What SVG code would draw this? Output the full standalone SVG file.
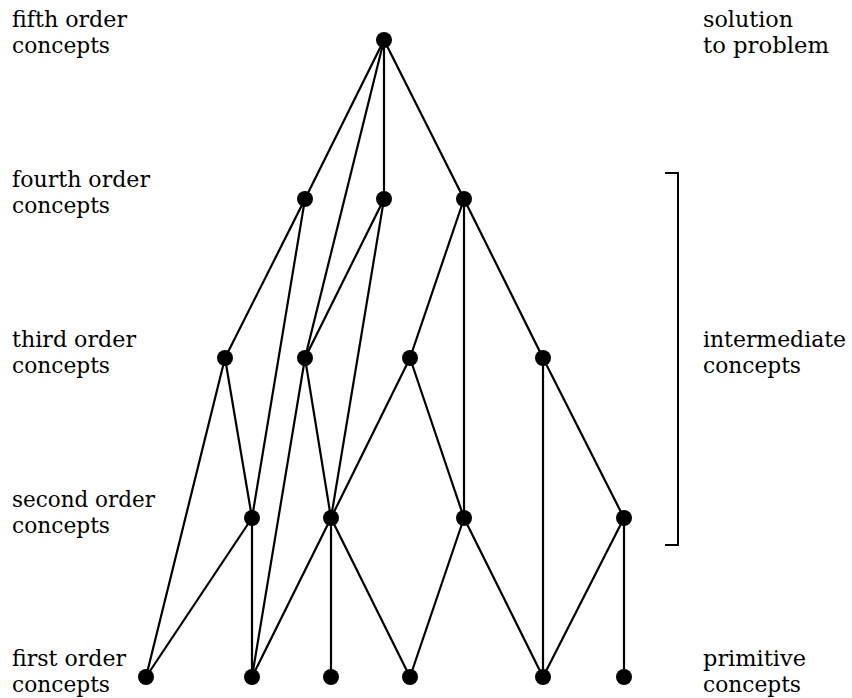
<svg xmlns="http://www.w3.org/2000/svg" width="852" height="698" viewBox="0 0 852 698">
  <style>
    text { font-family: 'DejaVu Serif', 'Liberation Serif', 'Noto Serif', 'FreeSerif', serif; font-size: 22px; fill: #000; }
    .edge { stroke: #000; stroke-width: 2.2; fill: none; stroke-linecap: round; }
    .node { fill: #000; }
    .bracket { stroke: #000; stroke-width: 2; fill: none; }
  </style>
  <defs>
    <circle id="dot" r="8" class="node"/>
  </defs>

  <rect width="852" height="698" fill="#fff"/>

  <!-- level labels, left side -->
  <g id="labels-left">
    <text x="12" y="27" textLength="115" lengthAdjust="spacingAndGlyphs">fifth order</text>
    <text x="12" y="53" textLength="98" lengthAdjust="spacingAndGlyphs">concepts</text>
    <text x="12" y="187" textLength="138" lengthAdjust="spacingAndGlyphs">fourth order</text>
    <text x="12" y="213" textLength="98" lengthAdjust="spacingAndGlyphs">concepts</text>
    <text x="12" y="347" textLength="124" lengthAdjust="spacingAndGlyphs">third order</text>
    <text x="12" y="373" textLength="98" lengthAdjust="spacingAndGlyphs">concepts</text>
    <text x="12" y="507" textLength="143" lengthAdjust="spacingAndGlyphs">second order</text>
    <text x="12" y="533" textLength="98" lengthAdjust="spacingAndGlyphs">concepts</text>
    <text x="12" y="666" textLength="114" lengthAdjust="spacingAndGlyphs">first order</text>
    <text x="12" y="692" textLength="98" lengthAdjust="spacingAndGlyphs">concepts</text>
  </g>

  <!-- annotations, right side -->
  <g id="labels-right">
    <text x="703" y="27" textLength="90" lengthAdjust="spacingAndGlyphs">solution</text>
    <text x="703" y="53" textLength="126" lengthAdjust="spacingAndGlyphs">to problem</text>
    <text x="703" y="347" textLength="143" lengthAdjust="spacingAndGlyphs">intermediate</text>
    <text x="703" y="373" textLength="98" lengthAdjust="spacingAndGlyphs">concepts</text>
    <text x="703" y="666" textLength="103" lengthAdjust="spacingAndGlyphs">primitive</text>
    <text x="703" y="692" textLength="98" lengthAdjust="spacingAndGlyphs">concepts</text>
  </g>

  <g id="bracket">
    <path class="bracket" d="M665,173 H678 V545 H665"/>
  </g>

  <!-- connectors between concept levels -->
  <g id="connectors">
    <line class="edge" x1="384" y1="40" x2="305" y2="199"/>
    <line class="edge" x1="384" y1="40" x2="384" y2="199"/>
    <line class="edge" x1="384" y1="40" x2="464" y2="199"/>
    <line class="edge" x1="384" y1="40" x2="305" y2="358"/>

    <line class="edge" x1="305" y1="199" x2="225" y2="358"/>
    <line class="edge" x1="305" y1="199" x2="252" y2="518"/>
    <line class="edge" x1="384" y1="199" x2="305" y2="358"/>
    <line class="edge" x1="384" y1="199" x2="331" y2="518"/>
    <line class="edge" x1="464" y1="199" x2="410" y2="358"/>
    <line class="edge" x1="464" y1="199" x2="464" y2="518"/>
    <line class="edge" x1="464" y1="199" x2="543" y2="358"/>

    <line class="edge" x1="225" y1="358" x2="252" y2="518"/>
    <line class="edge" x1="225" y1="358" x2="146" y2="677"/>
    <line class="edge" x1="305" y1="358" x2="331" y2="518"/>
    <line class="edge" x1="305" y1="358" x2="252" y2="677"/>
    <line class="edge" x1="410" y1="358" x2="331" y2="518"/>
    <line class="edge" x1="410" y1="358" x2="464" y2="518"/>
    <line class="edge" x1="543" y1="358" x2="624" y2="518"/>
    <line class="edge" x1="543" y1="358" x2="543" y2="677"/>

    <line class="edge" x1="252" y1="518" x2="146" y2="677"/>
    <line class="edge" x1="252" y1="518" x2="252" y2="677"/>
    <line class="edge" x1="331" y1="518" x2="252" y2="677"/>
    <line class="edge" x1="331" y1="518" x2="331" y2="677"/>
    <line class="edge" x1="331" y1="518" x2="410" y2="677"/>
    <line class="edge" x1="464" y1="518" x2="410" y2="677"/>
    <line class="edge" x1="464" y1="518" x2="543" y2="677"/>
    <line class="edge" x1="624" y1="518" x2="543" y2="677"/>
    <line class="edge" x1="624" y1="518" x2="624" y2="677"/>
  </g>

  <!-- fifth order -->
  <g id="n5-1"><use href="#dot" x="384" y="40"/></g>
  <!-- fourth order -->
  <g id="n4-1"><use href="#dot" x="305" y="199"/></g>
  <g id="n4-2"><use href="#dot" x="384" y="199"/></g>
  <g id="n4-3"><use href="#dot" x="464" y="199"/></g>
  <!-- third order -->
  <g id="n3-1"><use href="#dot" x="225" y="358"/></g>
  <g id="n3-2"><use href="#dot" x="305" y="358"/></g>
  <g id="n3-3"><use href="#dot" x="410" y="358"/></g>
  <g id="n3-4"><use href="#dot" x="543" y="358"/></g>
  <!-- second order -->
  <g id="n2-1"><use href="#dot" x="252" y="518"/></g>
  <g id="n2-2"><use href="#dot" x="331" y="518"/></g>
  <g id="n2-3"><use href="#dot" x="464" y="518"/></g>
  <g id="n2-4"><use href="#dot" x="624" y="518"/></g>
  <!-- first order -->
  <g id="n1-1"><use href="#dot" x="146" y="677"/></g>
  <g id="n1-2"><use href="#dot" x="252" y="677"/></g>
  <g id="n1-3"><use href="#dot" x="331" y="677"/></g>
  <g id="n1-4"><use href="#dot" x="410" y="677"/></g>
  <g id="n1-5"><use href="#dot" x="543" y="677"/></g>
  <g id="n1-6"><use href="#dot" x="624" y="677"/></g>
</svg>
